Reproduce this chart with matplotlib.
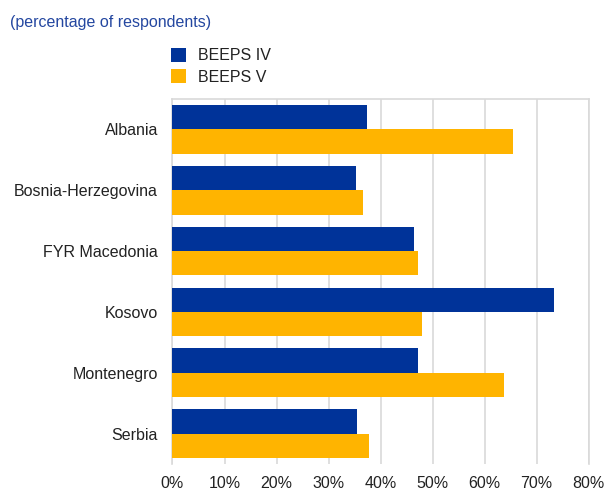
import matplotlib
matplotlib.use("Agg")
import matplotlib.pyplot as plt
import numpy as np
from matplotlib.ticker import PercentFormatter

categories = ["Albania", "Bosnia-Herzegovina", "FYR Macedonia", "Kosovo", "Montenegro", "Serbia"]
beeps_iv = [37.3, 35.3, 46.5, 73.4, 47.1, 35.5]
beeps_v = [65.4, 36.7, 47.2, 48.0, 63.8, 37.7]
series_labels = ["BEEPS IV", "BEEPS V"]
x_ticks = [0, 10, 20, 30, 40, 50, 60, 70, 80]

plt.rcParams['font.family'] = ['Liberation Sans', 'DejaVu Sans']

W, H = 606, 491
fig = plt.figure(figsize=(W/100, H/100), dpi=100)
left, right, top, bottom = 172.5, 588.7, 99, 464
ax = fig.add_axes([left/W, 1-bottom/H, (right-left)/W, (bottom-top)/H])

blue = '#003399'
yellow = '#FFB400'
y = np.arange(len(categories))
h = 0.4
b1 = ax.barh(y - h/2, beeps_iv, height=h, color=blue, label=series_labels[0], zorder=3)
b2 = ax.barh(y + h/2, beeps_v, height=h, color=yellow, label=series_labels[1], zorder=3)

ax.set_ylim(len(categories) - 0.5, -0.5)
ax.set_xlim(0, 80)
ax.set_yticks(y)
ax.set_yticklabels(categories)
ax.set_xticks(x_ticks)
ax.xaxis.set_major_formatter(PercentFormatter(decimals=0))
ax.tick_params(axis='y', length=0, pad=10.5, labelsize=11.5, labelcolor='#222222')
ax.tick_params(axis='x', length=0, pad=8.5, labelsize=11.5, labelcolor='#222222')
ax.grid(axis='x', color='#d9d9d9', linewidth=1.2, zorder=0)
for s in ['left', 'top', 'right']:
    ax.spines[s].set_color('#d9d9d9')
    ax.spines[s].set_linewidth(1.2)
ax.spines['bottom'].set_visible(False)

fig.text(10/W, 1-21/H, "(percentage of respondents)", color='#2447a0', fontsize=11.5,
         ha='left', va='center_baseline')

leg = fig.legend(handles=[b1, b2], labels=series_labels, loc='upper left',
                 bbox_to_anchor=(171/W, 1-48/H), frameon=False, fontsize=11.5,
                 handlelength=0.95, handleheight=0.95, handletextpad=0.75,
                 labelspacing=0.38, borderpad=0, borderaxespad=0)
for t in leg.get_texts():
    t.set_color('#222222')

fig.savefig("out.png", dpi=100)
